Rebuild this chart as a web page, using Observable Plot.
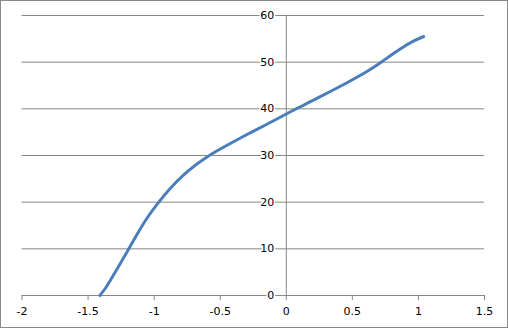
<!DOCTYPE html>
<html>
<head>
<meta charset="utf-8">
<script src="https://cdn.jsdelivr.net/npm/d3@7"></script>
<script src="https://cdn.jsdelivr.net/npm/@observablehq/plot@0.6"></script>
<style>
  html, body { margin: 0; padding: 0; background: #fff; }
  #chart svg { display: block; outline: 1px solid #888888; outline-offset: -1px; }
</style>
</head>
<body>
<div id="chart"></div>
<script>
const xValues = [-1.411, -1.37, -1.33, -1.255, -1.192, -1.129, -1.053, -0.965, -0.877, -0.751, -0.60, -0.448, -0.297, -0.146, 0, 0.106, 0.257, 0.459, 0.61, 0.723, 0.862, 0.962, 1.04];
const yValues = [0, 1.5, 3.3, 6.9, 10, 13.1, 16.6, 20, 23.0, 26.5, 29.7, 32.2, 34.5, 36.7, 38.9, 40.45, 42.6, 45.6, 48.0, 50.1, 52.8, 54.5, 55.5];
const xTicks = [-2, -1.5, -1, -0.5, 0, 0.5, 1, 1.5];
const yTicks = [0, 10, 20, 30, 40, 50, 60];

const data = xValues.map((x, i) => ({x, y: yValues[i]}));
const gray = "#878787";
const font = "DejaVu Sans, Verdana, sans-serif";

const chart = Plot.plot({
  width: 508,
  height: 328,
  marginLeft: 21.5,
  marginRight: 24,
  marginTop: 15,
  marginBottom: 33,
  style: {fontFamily: font, fontSize: "11px", color: "#000", background: "#fff"},
  x: {domain: [-2, 1.5]},
  y: {domain: [0, 60], axis: null},
  marks: [
    Plot.ruleY(yTicks, {y: d => d, stroke: gray, strokeWidth: 1, strokeOpacity: 1}),
    Plot.ruleX([0], {stroke: gray, strokeWidth: 1}),
    Plot.axisX({ticks: xTicks, tickFormat: d => String(d), tickSize: 5, tickPadding: 7, stroke: gray, fill: "#000", strokeOpacity: 1, fillOpacity: 1, label: null, fontSize: 11}),
    Plot.text(yTicks, {x: () => 0, y: d => d, text: d => String(d), textAnchor: "end", dx: -12, fill: "#000", stroke: "#fff", strokeWidth: 3, paintOrder: "stroke", fontSize: 11}),
    Plot.line(data, {x: "x", y: "y", stroke: "#4a7ebb", strokeWidth: 3, curve: "natural"})
  ]
});
document.getElementById("chart").append(chart);
</script>
</body>
</html>
